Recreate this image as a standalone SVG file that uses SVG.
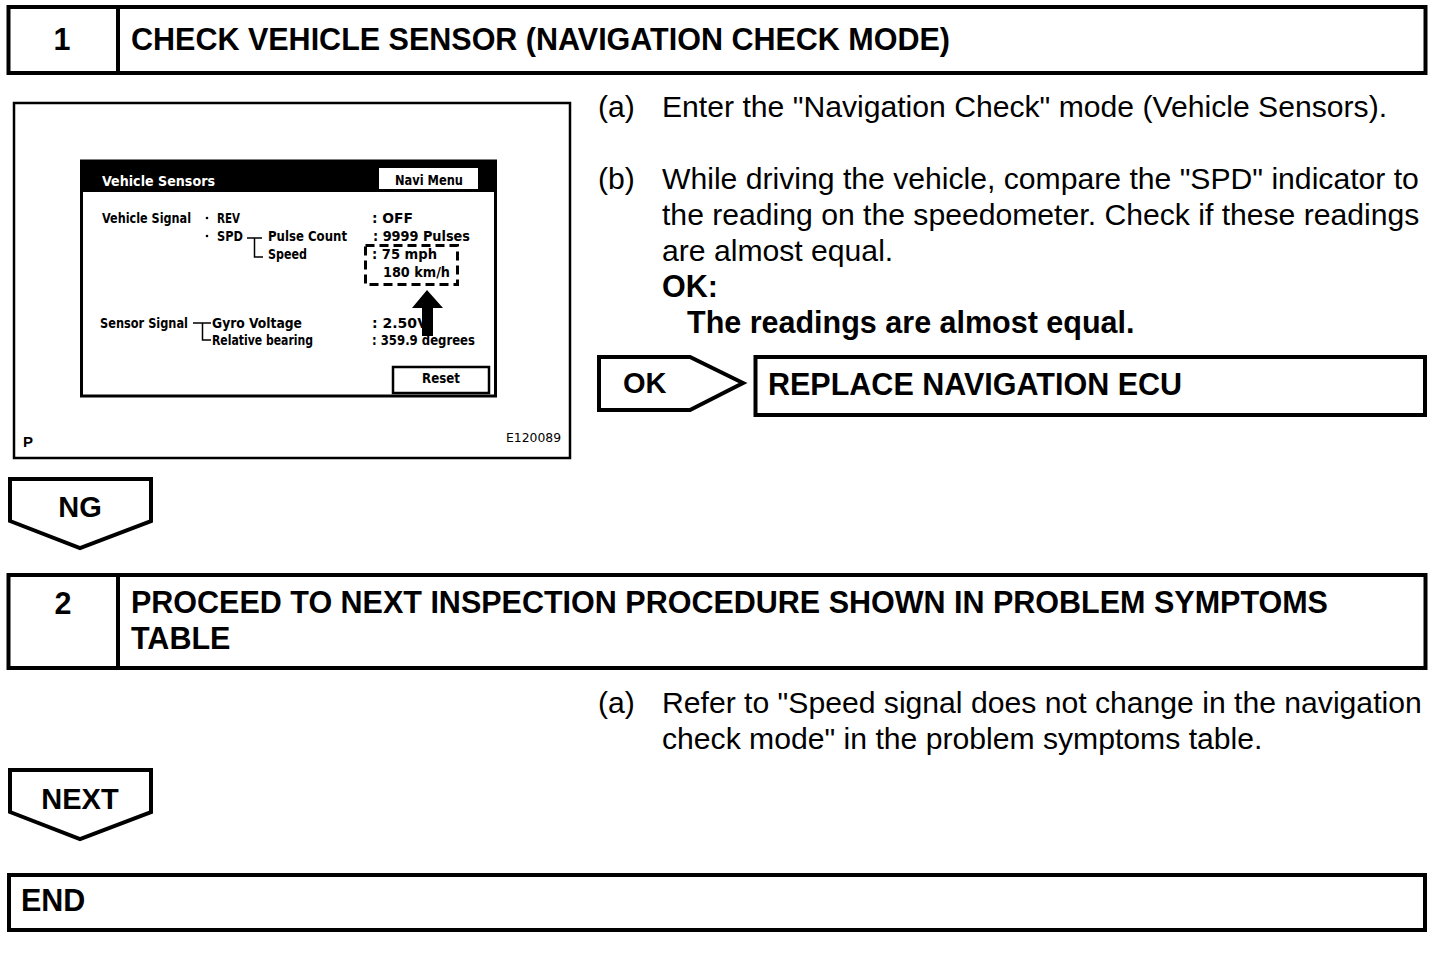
<svg xmlns="http://www.w3.org/2000/svg" width="1456" height="956" viewBox="0 0 1456 956">
<style>
  .box{fill:#fff;stroke:#000;stroke-width:4}
  .frame{fill:#fff;stroke:#000;stroke-width:2.5}
  .ln{stroke:#000;stroke-width:4;fill:none}
  .h{font-family:"Liberation Sans",Arial,sans-serif;font-weight:bold;font-size:30.5px;fill:#000}
  .t{font-family:"Liberation Sans",Arial,sans-serif;font-size:30.15px;fill:#000}
  .lb{font-family:"Liberation Sans",Arial,sans-serif;font-weight:bold;font-size:29px;fill:#000}
  .s{font-family:"Liberation Sans Narrow","DejaVu Sans Condensed","Liberation Sans",sans-serif;font-weight:bold;font-size:14px;fill:#000}
  .sw{fill:#fff}
  .br{stroke:#000;stroke-width:1.5;fill:none}
</style>
<rect width="1456" height="956" fill="#fff"/>

<g id="step1">
  <rect class="box" x="8.5" y="7" width="1417" height="66"/>
  <line class="ln" x1="118" y1="7" x2="118" y2="73"/>
  <text class="h" x="62" y="50" text-anchor="middle">1</text>
  <text class="h" x="131" y="50">CHECK VEHICLE SENSOR (NAVIGATION CHECK MODE)</text>
</g>

<g id="illustration">
  <rect class="frame" x="14" y="103" width="556" height="355"/>
  <rect x="81.5" y="161" width="414" height="235" fill="#fff" stroke="#000" stroke-width="3"/>
  <rect x="81" y="160" width="415" height="32" fill="#000"/>
  <text class="s sw" x="102" y="186" textLength="113" lengthAdjust="spacingAndGlyphs">Vehicle Sensors</text>
  <rect x="379" y="168" width="99" height="21" fill="#fff"/>
  <text class="s" x="395" y="185" textLength="68" lengthAdjust="spacingAndGlyphs">Navi Menu</text>

  <text class="s" x="102" y="223" textLength="89" lengthAdjust="spacingAndGlyphs">Vehicle Signal</text>
  <circle cx="207" cy="218" r="1.3" fill="#000"/>
  <text class="s" x="217" y="223" textLength="23" lengthAdjust="spacingAndGlyphs">REV</text>
  <text class="s" x="372" y="223" textLength="41" lengthAdjust="spacingAndGlyphs">: OFF</text>
  <circle cx="207" cy="236" r="1.3" fill="#000"/>
  <text class="s" x="217" y="241" textLength="26" lengthAdjust="spacingAndGlyphs">SPD</text>
  <path class="br" d="M247 238 H262 M254.5 238 V257 H263"/>
  <text class="s" x="268" y="241" textLength="79" lengthAdjust="spacingAndGlyphs">Pulse Count</text>
  <text class="s" x="268" y="259" textLength="39" lengthAdjust="spacingAndGlyphs">Speed</text>
  <text class="s" x="373" y="241" textLength="97" lengthAdjust="spacingAndGlyphs">: 9999 Pulses</text>
  <text class="s" x="372" y="259" textLength="65" lengthAdjust="spacingAndGlyphs">: 75 mph</text>
  <text class="s" x="383" y="277" textLength="67" lengthAdjust="spacingAndGlyphs">180 km/h</text>
  <rect x="365.5" y="245.5" width="92" height="39" fill="none" stroke="#000" stroke-width="3" stroke-dasharray="9,5"/>

  <text class="s" x="100" y="328" textLength="88" lengthAdjust="spacingAndGlyphs">Sensor Signal</text>
  <path class="br" d="M193 323 H211 M202.5 323 V340 H211"/>
  <text class="s" x="212" y="328" textLength="90" lengthAdjust="spacingAndGlyphs">Gyro Voltage</text>
  <text class="s" x="212" y="345" textLength="101" lengthAdjust="spacingAndGlyphs">Relative bearing</text>
  <text class="s" x="372" y="328" textLength="56" lengthAdjust="spacingAndGlyphs">: 2.50V</text>
  <text class="s" x="372" y="345" textLength="103" lengthAdjust="spacingAndGlyphs">: 359.9 degrees</text>
  <polygon points="427,290 443,308 433,308 433,336 422,336 422,308 412,308" fill="#000"/>

  <rect x="393" y="367" width="96" height="26" fill="#fff" stroke="#000" stroke-width="2.5"/>
  <text class="s" x="441" y="383" text-anchor="middle" textLength="38" lengthAdjust="spacingAndGlyphs">Reset</text>

  <text x="23" y="447" style="font-family:'Liberation Sans',Arial,sans-serif;font-weight:bold;font-size:15px">P</text>
  <text x="561" y="442" text-anchor="end" style="font-family:'Liberation Sans Narrow','DejaVu Sans Condensed','Liberation Sans',sans-serif;font-size:12px" textLength="55" lengthAdjust="spacingAndGlyphs">E120089</text>
</g>

<g id="instructions1">
  <text class="t" x="598" y="117">(a)</text>
  <text class="t" x="662" y="117">Enter the "Navigation Check" mode (Vehicle Sensors).</text>
  <text class="t" x="598" y="189">(b)</text>
  <text class="t" x="662" y="189">While driving the vehicle, compare the "SPD" indicator to</text>
  <text class="t" x="662" y="225">the reading on the speedometer. Check if these readings</text>
  <text class="t" x="662" y="261">are almost equal.</text>
  <text class="h" x="662" y="297">OK:</text>
  <text class="h" x="687" y="333">The readings are almost equal.</text>
</g>

<g id="ok-branch">
  <polygon class="box" points="599,357 690,357 743,383 690,410 599,410"/>
  <text class="lb" x="623" y="393">OK</text>
</g>

<g id="replace">
  <rect class="box" x="755.5" y="357" width="669.5" height="58"/>
  <text class="h" x="768" y="395">REPLACE NAVIGATION ECU</text>
</g>

<g id="ng-branch">
  <polygon class="box" points="10,479 151,479 151,521 80,548 10,521"/>
  <text class="lb" x="80" y="517" text-anchor="middle">NG</text>
</g>

<g id="step2">
  <rect class="box" x="8.5" y="575" width="1417" height="93"/>
  <line class="ln" x1="118" y1="575" x2="118" y2="668"/>
  <text class="h" x="63" y="614" text-anchor="middle">2</text>
  <text class="h" x="131" y="613">PROCEED TO NEXT INSPECTION PROCEDURE SHOWN IN PROBLEM SYMPTOMS</text>
  <text class="h" x="131" y="649">TABLE</text>
</g>

<g id="instructions2">
  <text class="t" x="598" y="713">(a)</text>
  <text class="t" x="662" y="713">Refer to "Speed signal does not change in the navigation</text>
  <text class="t" x="662" y="749">check mode" in the problem symptoms table.</text>
</g>

<g id="next-branch">
  <polygon class="box" points="10,770 151,770 151,812 80,839 10,812"/>
  <text class="lb" x="80" y="809" text-anchor="middle">NEXT</text>
</g>

<g id="end">
  <rect class="box" x="9" y="875" width="1416" height="55"/>
  <text class="h" x="21" y="911">END</text>
</g>

<g id="connectors"></g>
</svg>
